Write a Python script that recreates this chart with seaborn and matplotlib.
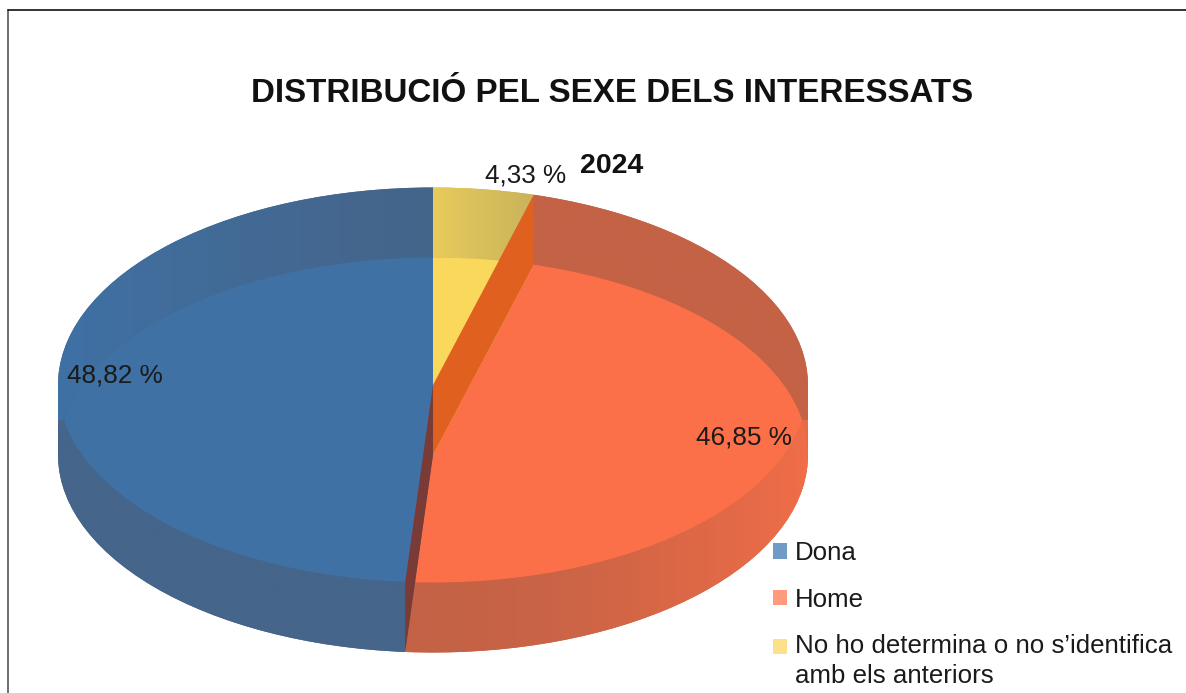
# Distribucio pel sexe - pie "3D" amb dues capes
import numpy as np
import seaborn as sns
import matplotlib.pyplot as plt
from matplotlib.lines import Line2D
from matplotlib.patches import Circle, Patch

categories = ['Dona', 'Home', 'No ho determina o no s\u2019identifica\namb els anteriors']
values = [48.82, 46.85, 4.33]
title = 'DISTRIBUCIÓ PEL SEXE DELS INTERESSATS'
subtitle = '2024'

wall_colors = sns.color_palette(['#45658a', '#c46246', '#c9b35b'])
bright_colors = sns.color_palette(['#3f71a5', '#fb7048', '#f9d85c'])
legend_colors = sns.color_palette(['#6f9bc6', '#ff9a7c', '#fbe28a'])
# cara del tall: groc/taronja i taronja/blau
cut_colors = {2: '#e0601f', 0: '#7a3a35'}

W, H = 1186, 693
sns.set_theme(style='white')
plt.rcParams['font.family'] = ['Liberation Sans', 'DejaVu Sans']

fig = plt.figure(figsize=(W / 100, H / 100), dpi=100)
ax = fig.add_axes([0, 0, 1, 1])
depth = 35 / 197.5

up = (0, depth)
down = (0, -depth)
xs = np.linspace(-1, 1, 400)


def pie_layer(center, colors, clip=None, z=1):
    wedges, _ = ax.pie(values, colors=colors, startangle=90, radius=1, center=center,
                       wedgeprops={'linewidth': 0})
    for w in wedges:
        w.set_zorder(z)
        if clip is not None:
            # pie() posa clip_on=False
            w.set_clip_on(True)
            w.set_clip_path(Circle(clip, 1, transform=ax.transData))
    return wedges


def wall_gradient(wedges, amount):
    # degradat horitzontal a les parets, retallat a cada porcio
    for i, w in enumerate(wedges):
        t = amount(i)[None, :, None]
        col = (1 - t) * np.array(wall_colors[i]) + t * np.array(bright_colors[i])
        im = ax.imshow(col, extent=(-1, 1, -2, 2), aspect='auto', zorder=1.5,
                       interpolation='bilinear')
        im.set_clip_path(w)


def back_amount(i):
    if i == 2:
        return 0.65 * np.clip((0.27 - xs) / 0.27, 0, 1)
    return np.clip(-xs, 0, 1) ** 1.3


def front_amount(i):
    return 0.8 * np.clip(xs, 0, 1) ** 1.6


# parets (la part que no se solapa)
back = pie_layer(up, wall_colors, z=1)
front = pie_layer(down, wall_colors, z=1)
wall_gradient(back, back_amount)
wall_gradient(front, front_amount)

# costats verticals de la silueta
ax.fill([-1, -0.9, -0.9, -1], [0, 0, depth, depth], color=bright_colors[0], lw=0, zorder=0.5)
ax.fill([-1, -0.9, -0.9, -1], [-depth, -depth, 0, 0], color=wall_colors[0], lw=0, zorder=0.5)
ax.fill([1, 0.9, 0.9, 1], [0, 0, depth, depth], color=wall_colors[1], lw=0, zorder=0.5)
ax.fill([1, 0.9, 0.9, 1], [-depth, -depth, 0, 0], color='#e66b47', lw=0, zorder=0.5)

# zona solapada
wedges = pie_layer(down, bright_colors, clip=up, z=3)

# cares del tall
for i, c in cut_colors.items():
    t = np.deg2rad(wedges[i].theta1 if i == 2 else wedges[i].theta2)
    x, y = np.cos(t), np.sin(t)
    ax.fill([0, x, x, 0], [depth, y + depth, y - depth, -depth], color=c, lw=0, zorder=4)

ax.set_aspect('auto')
ax.set_xlim(-433 / 375, (W - 433) / 375)
ax.set_ylim((420 - H) / 197.5, 420 / 197.5)
ax.axis('off')

fig.text(612 / W, 1 - 93 / H, title, ha='center', va='center', fontsize=23.9, fontweight='bold',
         color='#111111')
fig.text(612 / W, 1 - 166 / H, subtitle, ha='center', va='center', fontsize=20.5, fontweight='bold',
         color='#111111')

label_pos = [(115, 376), (744, 438), (526, 176)]
for v, (px, py) in zip(values, label_pos):
    fig.text(px / W, 1 - py / H, f'{v:.2f} %'.replace('.', ','), ha='center', va='center',
             fontsize=18.8, color='#1a1a1a', zorder=10)

handles = [Patch(color=c, lw=0) for c in legend_colors]
leg = fig.legend(handles, categories, loc='upper left', bbox_to_anchor=(773 / W, 1 - 541 / H),
                 frameon=False, fontsize=18.6, handlelength=0.54, handleheight=0.54,
                 handletextpad=0.3, labelspacing=0.88, borderpad=0, borderaxespad=0,
                 labelcolor='#1a1a1a')
leg.get_texts()[2].set_linespacing(1.28)
# el quadre de la ultima entrada va amb la primera linia
p = leg.get_patches()[2]
p.set_y(p.get_y() + 11)

# marc de la imatge
fig.add_artist(Line2D([8 / W, 8 / W], [0, 1 - 10 / H], color='#555555', lw=1.2))
fig.add_artist(Line2D([8 / W, 1], [1 - 10 / H, 1 - 10 / H], color='#111111', lw=1.2))

fig.savefig('out.png', dpi=100)
